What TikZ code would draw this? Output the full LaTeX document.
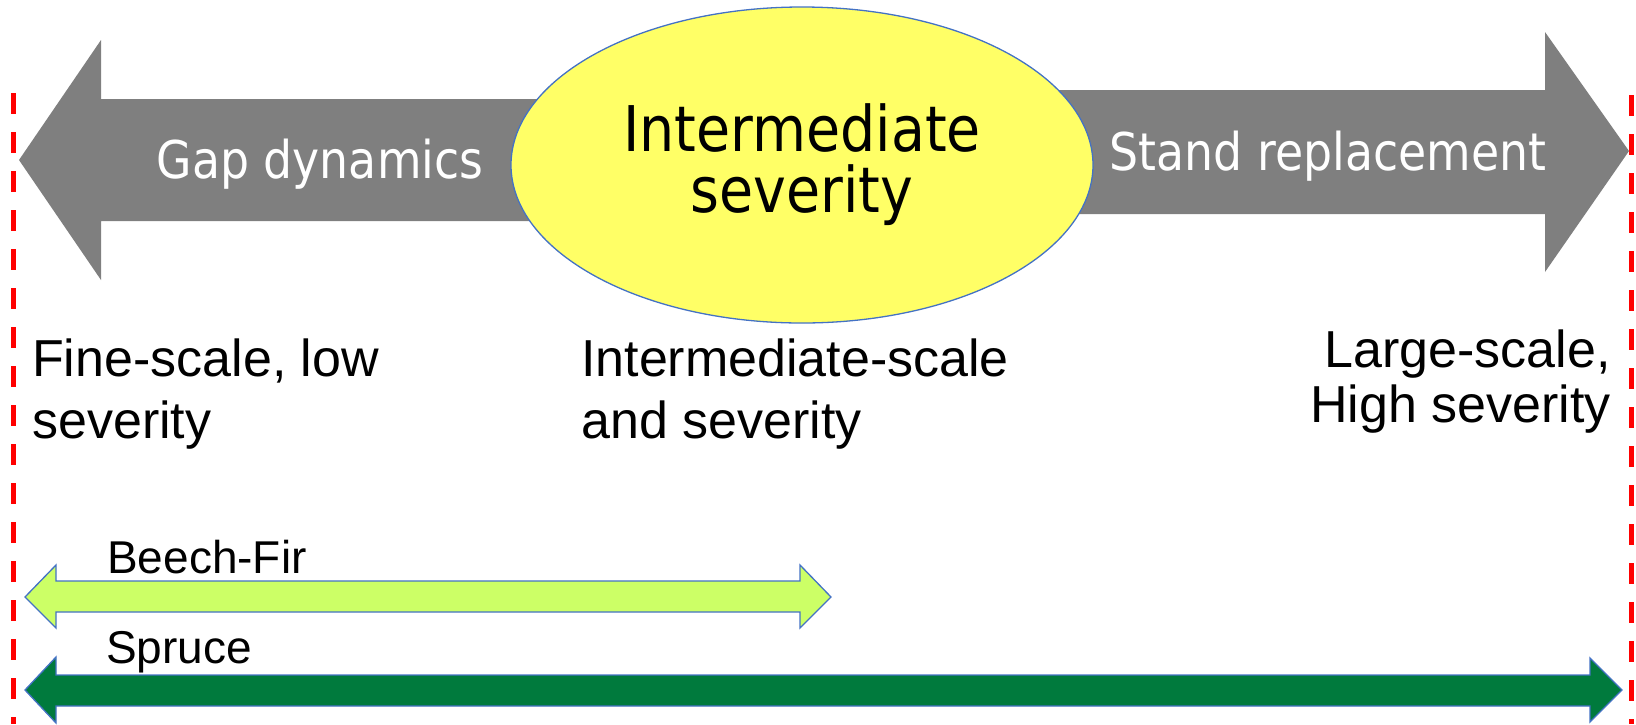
\documentclass[tikz,border=0pt]{standalone}
\usepackage{fontspec}
\usepackage{graphicx}
\usetikzlibrary{shapes.geometric}
\setmainfont{Liberation Sans}
\newfontfamily\tahomafont{DejaVu Sans}
\definecolor{sevgray}{HTML}{7F7F7F}
\definecolor{sevyellow}{HTML}{FFFF66}
\definecolor{sevblue}{HTML}{4472C4}
\definecolor{beechgreen}{HTML}{CCFF66}
\definecolor{sprucegreen}{HTML}{007A3D}
\definecolor{sevred}{HTML}{FF0000}
\newcommand{\narrowtext}[1]{\scalebox{0.88}[1]{#1}}

\begin{document}
\begin{tikzpicture}[x=1pt,y=-1pt,
  grayarrow/.style={fill=sevgray},
  rangearrow/.style={draw=sevblue, line width=1.3pt, line join=miter},
  divider/.style={draw=sevred, line width=5pt, dash pattern=on 21pt off 18pt},
  arrowtext/.style={text=white, inner sep=0pt, font=\tahomafont\fontsize{52}{60}\selectfont},
  scaletext/.style={inner sep=0pt, font=\fontsize{52}{62}\selectfont},
  treetext/.style={inner sep=0pt, font=\fontsize{46}{50}\selectfont}]
\useasboundingbox (0,0) rectangle (1636,724);

% disturbance regimes
\fill[grayarrow] (19,160) -- (101,40) -- (101,99) -- (560,99) -- (560,221)
  -- (101,221) -- (101,280) -- cycle;
\fill[grayarrow] (1040,90) -- (1545,90) -- (1545,32) -- (1629,151)
  -- (1545,272) -- (1545,214) -- (1040,214) -- cycle;
\node[arrowtext, anchor=base] (gap) at (320,178) {\narrowtext{Gap dynamics}};
\node[arrowtext, anchor=base] (stand) at (1328,170) {\narrowtext{Stand replacement}};

\node[ellipse, draw=sevblue, line width=1.3pt, fill=sevyellow, minimum width=582pt,
  minimum height=316pt, inner sep=0pt, align=center,
  font=\tahomafont\fontsize{63}{61}\selectfont] (inter) at (802,165)
  {\narrowtext{Intermediate}\\\narrowtext{severity}};

% scales (base = last line)
\node[scaletext, anchor=base west, align=left] (fine) at (32,438)
  {Fine-scale, low\\severity};
\node[scaletext, anchor=base west, align=left] (mid) at (581,438)
  {Intermediate-scale\\and severity};
\node[scaletext, anchor=base east, align=right, font=\fontsize{52}{55}\selectfont] (large) at (1611,422)
  {Large-scale,\\High severity};

% forest types
\filldraw[rangearrow, fill=beechgreen] (25,597) -- (56,565) -- (56,581) -- (800,581)
  -- (800,565) -- (831,597) -- (800,628) -- (800,612) -- (56,612) -- (56,628) -- cycle;
\node[treetext, anchor=base west] (beech) at (107,573) {Beech-Fir};
\filldraw[rangearrow, fill=sprucegreen] (25,690) -- (56,657) -- (56,675) -- (1590,675)
  -- (1590,658) -- (1622,690) -- (1590,722) -- (1590,706) -- (56,706) -- (56,723) -- cycle;
\node[treetext, anchor=base west] (spruce) at (106,663) {Spruce};

\draw[divider] (13,93) -- (13,724);
\draw[divider] (1631,95) -- (1631,724);
\end{tikzpicture}
\end{document}
